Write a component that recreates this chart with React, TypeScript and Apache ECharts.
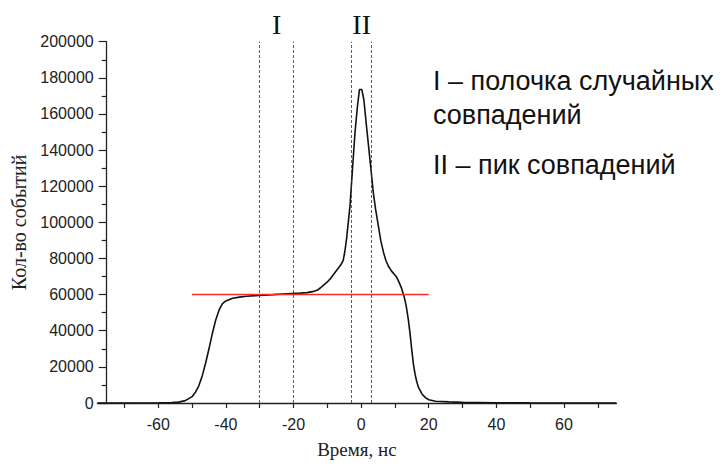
import React, { useEffect, useRef } from "react";
import * as echarts from "echarts";

// Time, ns
const times: number[] = [
  -78, -70, -60, -56, -54, -52, -50, -49, -48, -47, -46, -45, -44, -43, -42, -41, -40, -38, -36, -34,
  -30, -26, -22, -18, -16, -14, -13, -12, -11, -10, -9, -8, -7, -6, -5.3, -4.8, -4.3, -3.8, -3.3, -2.9,
  -2.5, -1.8, -1.1, -0.5, 0.2, 0.8, 1.6, 2.6, 3.6, 4.3, 5.1, 5.8, 6.6, 7.3, 8.0, 9.0, 10.5, 11.3, 12.0,
  12.7, 13.3, 13.9, 14.5, 15, 15.5, 16, 16.5, 17, 18, 19, 20, 22, 26, 30, 40, 50, 60, 75.5,
];
// Number of events
const counts: number[] = [
  0, 30, 120, 200, 500, 1300, 3500, 6000, 9500, 15000, 22000, 30000, 38500, 46000, 51500, 55000, 56500,
  58000, 58600, 59100, 59600, 60000, 60500, 60800, 61100, 61800, 62400, 63800, 65400, 67000, 69000, 71500,
  74000, 76500, 79000, 84000, 91000, 100000, 109000, 120000, 131000, 150000, 164000, 173500, 173500,
  168000, 153000, 135000, 116500, 107000, 98000, 90000, 83500, 79000, 76000, 73000, 69700, 66500, 63300,
  59000, 54000, 47000, 38000, 29000, 21000, 15500, 11500, 8500, 5000, 3000, 1800, 1000, 600, 350, 150,
  80, 40, 20,
];

const xLabelValues: number[] = [-60, -40, -20, 0, 20, 40, 60];
const xTickValues: number[] = [-70, -60, -50, -40, -30, -20, -10, 0, 10, 20, 30, 40, 50, 60, 70];
const windowBounds: number[] = [-30, -20, -3, 3];
const levelX: number[] = [-50, 20];
const levelY = 60000;

const legendLines: string[] = ["I – полочка случайных", "совпадений", "II – пик совпадений"];
const romanLabels: string[] = ["I", "II"];

export default function App() {
  const ref = useRef<HTMLDivElement>(null);
  useEffect(() => {
    if (!ref.current) return;
    const chart = echarts.init(ref.current, null, { renderer: "svg" });
    const curve = times.map((t, i) => [t, counts[i]]);
    const sans = "'Liberation Sans', Arial, sans-serif";
    const serif = "'Liberation Serif', 'Times New Roman', serif";
    chart.setOption({
      animation: false,
      backgroundColor: "#ffffff",
      grid: { left: 97.4, right: 109.6, top: 41.7, bottom: 59 },
      xAxis: {
        type: "value",
        min: -78,
        max: 75.5,
        axisLine: { onZero: false, lineStyle: { color: "#222", width: 1.3 } },
        axisTick: { customValues: xTickValues, length: 5, lineStyle: { color: "#222", width: 1.2 } },
        axisLabel: { customValues: xLabelValues, fontSize: 16, color: "#222", margin: 13, fontFamily: sans },
        splitLine: { show: false },
        name: "Время, нс",
        nameLocation: "middle",
        nameGap: 37,
        nameTextStyle: { fontFamily: serif, fontSize: 19, color: "#222" },
      },
      yAxis: {
        type: "value",
        min: 0,
        max: 200000,
        interval: 20000,
        offset: -9.3,
        axisLine: { show: true, onZero: false, lineStyle: { color: "#222", width: 1.3 } },
        axisTick: { show: true, length: 8, lineStyle: { color: "#222", width: 1.2 } },
        minorTick: { show: true, splitNumber: 2, length: 5, lineStyle: { color: "#222", width: 1.2 } },
        axisLabel: {
          fontSize: 16,
          color: "#222",
          margin: 13,
          fontFamily: sans,
          formatter: (v: number) => String(v),
        },
        splitLine: { show: false },
        name: "Кол-во событий",
        nameLocation: "middle",
        nameGap: 76,
        nameTextStyle: { fontFamily: serif, fontSize: 20, color: "#222" },
      },
      series: [
        {
          type: "line",
          data: curve,
          showSymbol: false,
          lineStyle: { color: "#111", width: 1.6 },
          silent: true,
          markLine: {
            silent: true,
            symbol: "none",
            label: { show: false },
            lineStyle: { color: "#333", width: 0.8, type: [3, 2] },
            data: windowBounds.map((v) => ({ xAxis: v })),
          },
        },
        {
          type: "line",
          data: levelX.map((x) => [x, levelY]),
          showSymbol: false,
          lineStyle: { color: "#ff2a2a", width: 1.5 },
          silent: true,
        },
      ],
      graphic: [
        {
          type: "text",
          x: 276.7,
          y: 24,
          style: { text: romanLabels[0], font: `28px ${serif}`, fill: "#111", align: "center", verticalAlign: "middle" },
        },
        {
          type: "text",
          x: 361.7,
          y: 24,
          style: { text: romanLabels[1], font: `28px ${serif}`, fill: "#111", align: "center", verticalAlign: "middle" },
        },
        {
          type: "text",
          x: 433,
          y: 81,
          style: { text: legendLines[0], font: `27px ${sans}`, fill: "#111", align: "left", verticalAlign: "middle" },
        },
        {
          type: "text",
          x: 433,
          y: 115,
          style: { text: legendLines[1], font: `27px ${sans}`, fill: "#111", align: "left", verticalAlign: "middle" },
        },
        {
          type: "text",
          x: 433,
          y: 165,
          style: { text: legendLines[2], font: `27px ${sans}`, fill: "#111", align: "left", verticalAlign: "middle" },
        },
      ],
    });
    return () => chart.dispose();
  }, []);
  return <div ref={ref} style={{ position: "absolute", left: 0, top: 0, width: 726, height: 464 }} />;
}
